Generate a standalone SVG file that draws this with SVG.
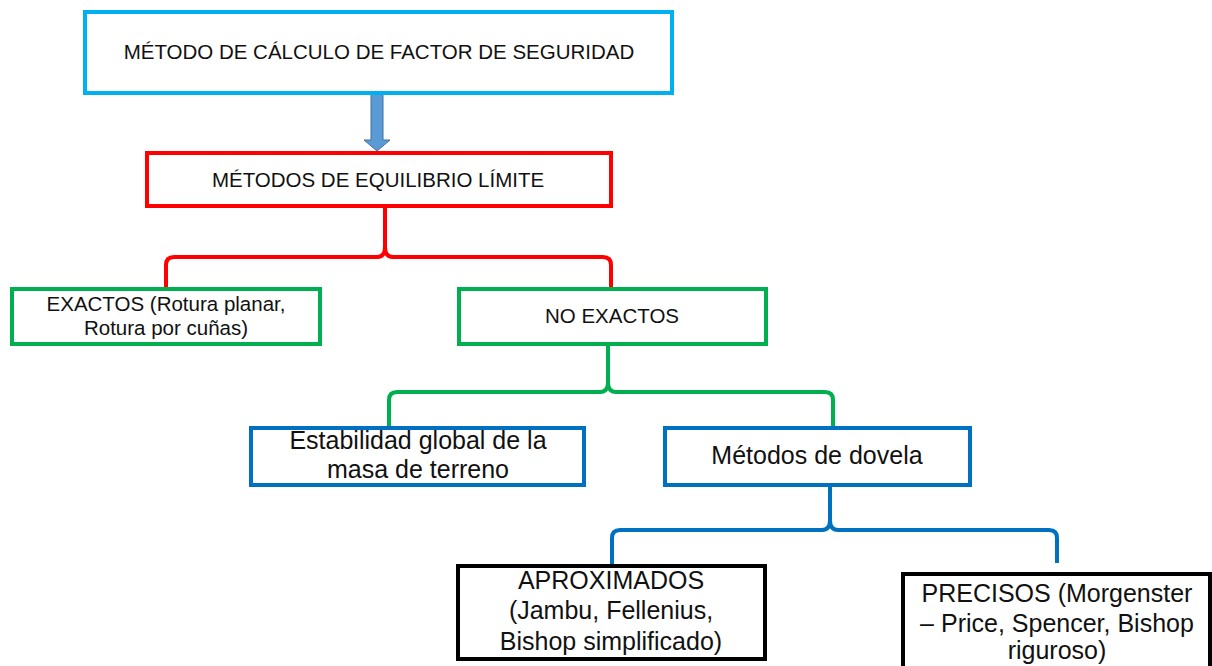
<svg xmlns="http://www.w3.org/2000/svg" width="1212" height="666" viewBox="0 0 1212 666">
<style>
.box{fill:#fff;stroke-width:4}
.t{font-family:"Liberation Sans",Arial,sans-serif;fill:#111;text-anchor:middle}
.s{font-size:20.5px}
.l{font-size:25px}
.br{fill:none;stroke-width:4;stroke-linejoin:round}
</style>
<rect width="1212" height="666" fill="#fff"/>
<g id="connectors">
<path d="M371,94 H383 V140 H390 L377,151 L364,140 H371 Z" fill="#5B9BD5" stroke="#41719C" stroke-width="1"/>
<path class="br" stroke="#FF0000" d="M385,207 V247 Q385,257 377,257 H174 Q166,257 166,265 V289 M385,247 Q385,257 393,257 H603 Q611,257 611,265 V289"/>
<path class="br" stroke="#00B050" d="M608,344 V382 Q608,392 600,392 H397 Q389,392 389,400 V427 M608,382 Q608,392 616,392 H825 Q833,392 833,400 V427"/>
<path class="br" stroke="#0070C0" d="M830,485 V520 Q830,530 822,530 H620 Q612,530 612,538 V564 M830,520 Q830,530 838,530 H1049 Q1057,530 1057,538 V563"/>
</g>
<g id="n1">
<rect class="box" x="85" y="12" width="587" height="81" stroke="#00B0F0"/>
<text class="t s" x="379" y="59">MÉTODO DE CÁLCULO DE FACTOR DE SEGURIDAD</text>
</g>
<g id="n2">
<rect class="box" x="147" y="153" width="464" height="53" stroke="#FF0000"/>
<text class="t s" x="378" y="187">MÉTODOS DE EQUILIBRIO LÍMITE</text>
</g>
<g id="n3">
<rect class="box" x="12" y="289" width="308" height="55" stroke="#00B050"/>
<text class="t s" x="166" y="311">EXACTOS (Rotura planar,</text>
<text class="t s" x="166" y="335">Rotura por cuñas)</text>
</g>
<g id="n4">
<rect class="box" x="459" y="289" width="307" height="55" stroke="#00B050"/>
<text class="t s" x="612" y="323">NO EXACTOS</text>
</g>
<g id="n5">
<rect class="box" x="251" y="428" width="333" height="57" stroke="#0070C0"/>
<text class="t l" x="418" y="449">Estabilidad global de la</text>
<text class="t l" x="418" y="478">masa de terreno</text>
</g>
<g id="n6">
<rect class="box" x="665" y="428" width="305" height="57" stroke="#0070C0"/>
<text class="t l" x="817" y="464">Métodos de dovela</text>
</g>
<g id="n7">
<rect class="box" x="458" y="566" width="307" height="93" stroke="#000" stroke-width="5"/>
<text class="t l" x="611" y="589">APROXIMADOS</text>
<text class="t l" x="611" y="619">(Jambu, Fellenius,</text>
<text class="t l" x="611" y="650">Bishop simplificado)</text>
</g>
<g id="n8">
<rect class="box" x="903" y="574" width="307" height="100" stroke="#000" stroke-width="5"/>
<text class="t l" x="1057" y="602">PRECISOS (Morgenster</text>
<text class="t l" x="1057" y="632">– Price, Spencer, Bishop</text>
<text class="t l" x="1057" y="659">riguroso)</text>
</g>
</svg>
